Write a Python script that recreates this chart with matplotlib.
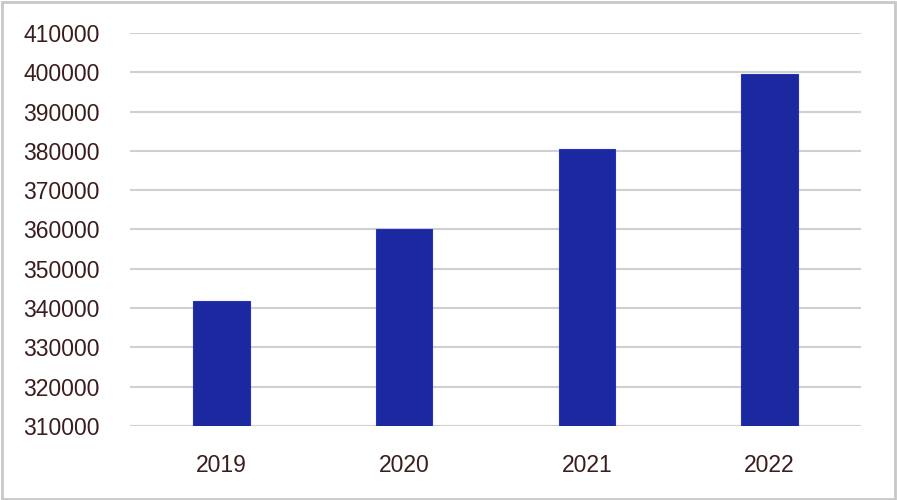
import numpy as np
import matplotlib.pyplot as plt
from matplotlib.patches import Rectangle

years = ["2019", "2020", "2021", "2022"]
values = [341900, 360000, 380600, 399600]
yticks = list(range(310000, 410001, 10000))

text_color = "#3a1d1d"
grid_color = "#d0d0d0"

fig = plt.figure(figsize=(8.97, 5.0), dpi=100)
ax = fig.add_axes([130 / 897, 1 - 426 / 500, 731 / 897, 393 / 500])

x = np.arange(len(years))
ax.bar(x, values, width=0.31, color="#1b28a0", edgecolor="#2233b8",
       linewidth=0.8, zorder=3, bottom=0)

ax.set_xlim(-0.5, len(years) - 0.5)
ax.set_ylim(yticks[0], yticks[-1])
ax.set_yticks(yticks)
ax.set_yticklabels([str(t) for t in yticks])
ax.set_xticks(x)
ax.set_xticklabels(years)

ax.grid(axis="y", color=grid_color, linewidth=1.5, zorder=0)
ax.set_axisbelow(True)
for s in ax.spines.values():
    s.set_visible(False)

ax.tick_params(axis="both", length=0, labelsize=16.5, labelcolor=text_color,
               labelfontfamily="Liberation Sans")
ax.tick_params(axis="y", pad=22)
ax.tick_params(axis="x", pad=20)

# outer border
fig.patches.append(Rectangle((0.002, 0.003), 0.996, 0.994, transform=fig.transFigure,
                             fill=False, edgecolor="#c8c8c8", linewidth=2))

fig.savefig("out.png", dpi=100)
